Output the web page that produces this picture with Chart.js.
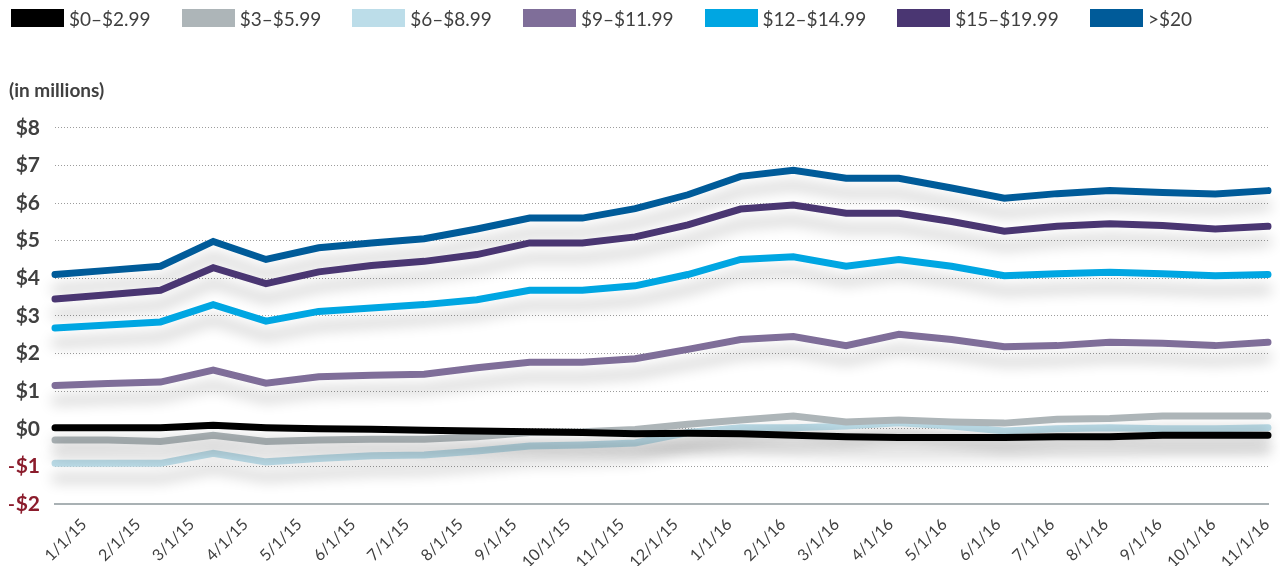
<!DOCTYPE html>
<html>
<head>
<meta charset="utf-8">
<script src="https://cdn.jsdelivr.net/npm/chart.js@4.4.1/dist/chart.umd.min.js"></script>
<style>
  html, body { margin: 0; padding: 0; background: #fff; }
  #wrap { position: relative; width: 1280px; height: 571px; }
  #chart { position: absolute; left: 0; top: 0; }
  #legend { position: absolute; left: 11px; top: 9px; display: flex; font-family: Lato, sans-serif; font-size: 19px; color: #404040; }
  .item { display: flex; align-items: center; height: 18px; margin-right: 31px; }
  .swatch { width: 53px; height: 18px; margin-right: 5px; }
</style>
</head>
<body>
<div id="wrap">
  <canvas id="chart" width="1280" height="571"></canvas>
  <div id="legend"></div>
</div>
<script>
// tick labels along the bottom (23 of them, the series have 24 points)
const dateLabels = ['1/1/15', '2/1/15', '3/1/15', '4/1/15', '5/1/15', '6/1/15', '7/1/15', '8/1/15',
  '9/1/15', '10/1/15', '11/1/15', '12/1/15', '1/1/16', '2/1/16', '3/1/16', '4/1/16', '5/1/16',
  '6/1/16', '7/1/16', '8/1/16', '9/1/16', '10/1/16', '11/1/16'];
const yTicks = [-2, -1, 0, 1, 2, 3, 4, 5, 6, 7, 8];

const seriesNames = ['$0–$2.99', '$3–$5.99', '$6–$8.99', '$9–$11.99', '$12–$14.99', '$15–$19.99', '>$20'];
const seriesColors = ['#000000', '#adb5b8', '#bcdde9', '#7f6e99', '#00a6e2', '#4a3672', '#005b99'];

// values in $ millions
const range0 = [0.03, 0.03, 0.03, 0.09, 0.03, 0.0, -0.01, -0.04, -0.06, -0.08, -0.10, -0.13,
  -0.12, -0.13, -0.17, -0.21, -0.23, -0.23, -0.23, -0.21, -0.21, -0.17, -0.17, -0.17];
const range3 = [-0.30, -0.30, -0.34, -0.17, -0.34, -0.30, -0.28, -0.28, -0.21, -0.10, -0.08, -0.02,
  0.12, 0.23, 0.34, 0.18, 0.23, 0.18, 0.15, 0.25, 0.27, 0.34, 0.34, 0.34];
const range6 = [-0.92, -0.92, -0.92, -0.65, -0.88, -0.79, -0.72, -0.70, -0.59, -0.46, -0.43, -0.38,
  -0.10, 0.03, 0.03, 0.07, 0.16, 0.07, -0.06, 0.0, 0.03, 0.0, 0.0, 0.03];
const range9 = [1.15, 1.20, 1.24, 1.56, 1.21, 1.38, 1.42, 1.45, 1.62, 1.77, 1.77, 1.86,
  2.11, 2.37, 2.45, 2.21, 2.51, 2.37, 2.18, 2.21, 2.30, 2.27, 2.21, 2.30];
const range12 = [2.68, 2.76, 2.84, 3.30, 2.86, 3.12, 3.21, 3.30, 3.43, 3.68, 3.68, 3.80,
  4.10, 4.50, 4.57, 4.32, 4.50, 4.32, 4.07, 4.12, 4.16, 4.12, 4.07, 4.10];
const range15 = [3.45, 3.56, 3.68, 4.28, 3.86, 4.17, 4.34, 4.45, 4.63, 4.94, 4.94, 5.10,
  5.42, 5.84, 5.95, 5.73, 5.73, 5.51, 5.25, 5.38, 5.45, 5.40, 5.31, 5.38];
const range20 = [4.10, 4.21, 4.32, 4.98, 4.50, 4.81, 4.94, 5.05, 5.31, 5.60, 5.60, 5.85,
  6.22, 6.71, 6.87, 6.66, 6.66, 6.40, 6.13, 6.25, 6.33, 6.28, 6.24, 6.33];

const allSeries = [range0, range3, range6, range9, range12, range15, range20];

(function () {
  'use strict';

  // html legend
  const legend = document.getElementById('legend');
  seriesNames.forEach(function (name, i) {
    const item = document.createElement('div');
    item.className = 'item';
    const sw = document.createElement('span');
    sw.className = 'swatch';
    sw.style.background = seriesColors[i];
    const txt = document.createElement('span');
    txt.textContent = name;
    item.appendChild(sw);
    item.appendChild(txt);
    legend.appendChild(item);
  });

  // soft drop shadow under every line
  const lineShadow = {
    id: 'lineShadow',
    beforeDatasetDraw(chart) {
      const c = chart.ctx;
      c.save();
      c.shadowColor = 'rgba(0, 0, 0, 0.22)';
      c.shadowBlur = 14;
      c.shadowOffsetX = 0;
      c.shadowOffsetY = 15;
    },
    afterDatasetDraw(chart) {
      chart.ctx.restore();
    },
  };

  const ctx = document.getElementById('chart').getContext('2d');
  const myChart = new Chart(ctx, {
    type: 'line',
    data: {
      datasets: allSeries.map(function (vals, k) {
        return {
          label: seriesNames[k],
          data: vals.map(function (v, i) { return { x: i, y: v }; }),
          borderColor: seriesColors[k],
          backgroundColor: seriesColors[k],
          borderWidth: 7,
          pointRadius: 0,
          pointHoverRadius: 0,
          tension: 0,
          borderCapStyle: 'round',
          borderJoinStyle: 'miter',
          clip: false,
          xAxisID: 'x',
          yAxisID: 'y',
        };
      }),
    },
    options: {
      responsive: false,
      animation: false,
      events: [],
      layout: {
        padding: { top: 79, left: 9, right: 12, bottom: 5 },
      },
      plugins: {
        legend: { display: false },
        tooltip: { enabled: false },
        title: {
          display: true,
          text: '(in millions)',
          align: 'start',
          color: '#404040',
          font: { family: 'Lato', size: 19, weight: 'bold' },
          padding: { top: 0, bottom: 26 },
        },
      },
      scales: {
        x: {
          type: 'linear',
          display: false,
          min: 0,
          max: allSeries[0].length - 1,
        },
        xl: {
          type: 'linear',
          position: 'bottom',
          min: -0.54,
          max: 22.02,
          afterBuildTicks: function (s) {
            s.ticks = dateLabels.map(function (_, i) { return { value: i }; });
          },
          afterFit: function (s) {
            s.height = 62;
            s.paddingLeft = 0;
            s.paddingRight = 0;
          },
          ticks: {
            autoSkip: false,
            minRotation: 45,
            maxRotation: 45,
            padding: 11,
            color: '#404040',
            font: { family: 'Lato', size: 16 },
            callback: function (v) { return dateLabels[v]; },
          },
          grid: { display: false, drawTicks: false },
          border: { display: true, color: '#a9b1b4', width: 2 },
        },
        y: {
          type: 'linear',
          min: -2,
          max: 8,
          afterBuildTicks: function (s) {
            s.ticks = yTicks.map(function (v) { return { value: v }; });
          },
          afterFit: function (s) { s.width = 46; },
          ticks: {
            padding: 15,
            color: function (c) { return c.tick && c.tick.value < 0 ? '#8b1c2c' : '#404040'; },
            font: { family: 'Lato', size: 21, weight: 'bold' },
            callback: function (v) { return v < 0 ? '–$' + Math.abs(v) : '$' + v; },
          },
          grid: { color: '#9c9c9c', lineWidth: 1, drawTicks: false },
          border: { display: false, dash: [1, 2] },
        },
      },
    },
    plugins: [lineShadow],
  });
})();
</script>
</body>
</html>
